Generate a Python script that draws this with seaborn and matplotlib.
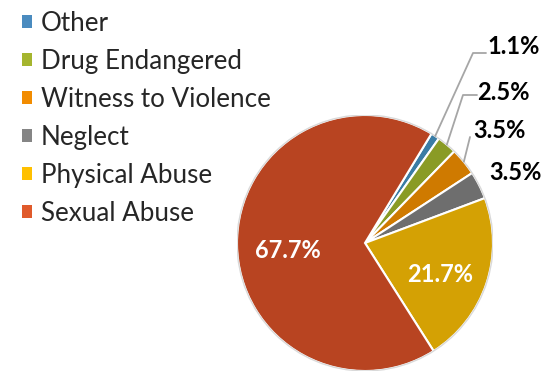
import numpy as np
import matplotlib
matplotlib.use("Agg")
import matplotlib.pyplot as plt
import seaborn as sns
from matplotlib.patches import Patch, Circle

categories = ["Other", "Drug Endangered", "Witness to Violence", "Neglect", "Physical Abuse", "Sexual Abuse"]
values = [1.1, 2.5, 3.5, 3.5, 21.7, 67.7]
pie_colors = ["#3A7CA5", "#8A9B25", "#CF7A00", "#6E6E6E", "#D4A104", "#B84421"]
legend_colors = ["#4A8BBF", "#A5B52E", "#F28C00", "#858585", "#FFC000", "#E05A2B"]
labels = ["1.1%", "2.5%", "3.5%", "3.5%", "21.7%", "67.7%"]

sns.set_theme(style="white")
plt.rcParams['font.family'] = ['Lato', 'DejaVu Sans']

fig = plt.figure(figsize=(5.49, 3.73), dpi=100)
W, H = 549, 373
cx, cy, R = 365, 243, 128
ax = fig.add_axes([(cx - R) / W, (H - cy - R) / H, 2 * R / W, 2 * R / H])

start = 58.7
wedges, _ = ax.pie(values, colors=pie_colors, startangle=start, counterclock=False,
                   radius=1.0, wedgeprops=dict(edgecolor="white", linewidth=1.5))
ax.set_xlim(-1, 1)
ax.set_ylim(-1, 1)
ax.axis("off")
ax.add_patch(Circle((0, 0), 1.0, fill=False, edgecolor="#D9D9D9", linewidth=1.0, zorder=5))

def mid_angle(w):
    return np.deg2rad((w.theta1 + w.theta2) / 2)

def px2d(px, py):
    return (px - cx) / R, (cy - py) / R

# inner labels
for i in (4, 5):
    a = mid_angle(wedges[i])
    r = 0.62 if i == 4 else 0.64
    ax.text(r * np.cos(a) + (0.04 if i == 5 else 0), r * np.sin(a) - 0.05, labels[i],
            color="white", fontsize=17, fontweight="bold", ha="center", va="center")

# outer labels with leader lines
outer = {
    0: dict(text=(487, 47), elbow=(473, 53), end=(486, 53)),
    1: dict(text=(477, 92), elbow=(463, 95), end=(477, 95)),
    2: dict(text=(473, 131), elbow=(470, 137), end=None),
    3: dict(text=(489, 173), elbow=None, end=None),
}
for i, o in outer.items():
    a = mid_angle(wedges[i])
    p0 = (np.cos(a), np.sin(a))
    pts = [p0]
    if o["elbow"] is not None:
        pts.append(px2d(*o["elbow"]))
        if o["end"] is not None:
            pts.append(px2d(*o["end"]))
        xs, ys = zip(*pts)
        ax.plot(xs, ys, color="#A6A6A6", linewidth=1.3, clip_on=False, zorder=6)
    tx, ty = px2d(*o["text"])
    ax.text(tx, ty, labels[i], color="black", fontsize=17, fontweight="bold",
            ha="left", va="center", clip_on=False)

handles = [Patch(facecolor=c, edgecolor="none") for c in legend_colors]
fig.legend(handles, categories, loc="upper left", bbox_to_anchor=(0.007, 1.02),
           frameon=False, fontsize=18.7, handlelength=0.38, handleheight=0.38,
           handletextpad=0.35, labelspacing=0.5, borderaxespad=0.3)

fig.savefig("out.png", dpi=100)
